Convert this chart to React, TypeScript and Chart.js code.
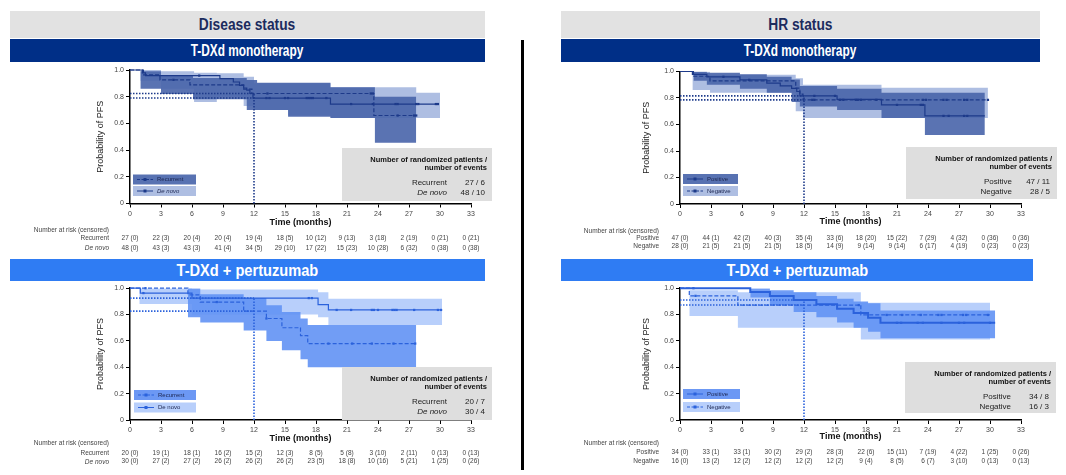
import React, { useEffect, useRef } from 'react';
import { Chart, registerables } from 'chart.js';
Chart.register(...registerables);

const FONT = "'Liberation Sans', Arial, Helvetica, sans-serif";
const NARROW = "'Liberation Sans Narrow', 'Arial Narrow', 'Liberation Sans', Arial, sans-serif";

// ---------- shared axis ticks ----------
const timeTicks = [0, 3, 6, 9, 12, 15, 18, 21, 24, 27, 30, 33];
const yTicks = [0, 0.2, 0.4, 0.6, 0.8, 1.0];

// ---------- Disease status : T-DXd monotherapy ----------
const dsMonoRecT = [0, 1.2, 2.9, 5.8, 11.0, 11.8, 23.6, 27.7];
const dsMonoRecS = [1, 0.963, 0.926, 0.889, 0.856, 0.824, 0.659, 0.659];
const dsMonoRecCens = [4.2, 13.3, 23.3, 23.5, 25.9, 27.5, 27.7];
const dsMonoRecBandT = [1.0, 3.0, 6.1, 11.3, 12.3, 15.3, 19.4, 23.7, 27.7];
const dsMonoRecBandHi = [0.99, 0.96, 0.94, 0.925, 0.905, 0.905, 0.87, 0.8];
const dsMonoRecBandLo = [0.86, 0.82, 0.78, 0.7, 0.7, 0.65, 0.64, 0.455];
const dsMonoDnT = [0, 1.3, 1.5, 8.7, 10.0, 10.6, 11.0, 11.3, 11.6, 11.9, 19.4, 29.8];
const dsMonoDnS = [1, 0.979, 0.958, 0.935, 0.91, 0.885, 0.865, 0.85, 0.824, 0.79, 0.745, 0.745];
const dsMonoDnCens = [6.7, 13.2, 13.5, 15.0, 15.3, 17.1, 17.3, 17.5, 17.7, 19.0, 21.4, 23.5, 25.7, 25.9, 27.7, 27.9, 29.6, 29.8];
const dsMonoDnBandT = [1.0, 3.0, 6.2, 8.4, 11.0, 12.0, 15.3, 19.4, 23.7, 27.7, 30.0];
const dsMonoDnBandHi = [1.0, 0.99, 0.98, 0.975, 0.95, 0.9, 0.9, 0.87, 0.87, 0.83];
const dsMonoDnBandLo = [0.92, 0.86, 0.76, 0.8, 0.73, 0.7, 0.66, 0.64, 0.64, 0.64];
const dsMonoRecRisk = ['27 (0)', '22 (3)', '20 (4)', '20 (4)', '19 (4)', '18 (5)', '10 (12)', '9 (13)', '3 (18)', '2 (19)', '0 (21)', '0 (21)'];
const dsMonoDnRisk = ['48 (0)', '43 (3)', '43 (3)', '41 (4)', '34 (5)', '29 (10)', '17 (22)', '15 (23)', '10 (28)', '6 (32)', '0 (38)', '0 (38)'];
const dsMonoInfo = ['27 / 6', '48 / 10'];

// ---------- HR status : T-DXd monotherapy ----------
const hrMonoPosT = [0, 1.3, 2.6, 5.8, 8.4, 9.7, 10.8, 11.3, 11.6, 15.2, 19.5, 23.7, 29.5];
const hrMonoPosS = [1, 0.978, 0.96, 0.937, 0.912, 0.892, 0.872, 0.849, 0.816, 0.79, 0.748, 0.665, 0.665];
const hrMonoPosCens = [4.2, 6.7, 13.0, 15.0, 21.0, 23.3, 23.5, 25.5, 26.0, 27.5, 27.8];
const hrMonoPosBandT = [1.3, 2.6, 5.8, 8.4, 10.8, 11.6, 15.2, 19.5, 23.7, 29.5];
const hrMonoPosBandHi = [1.0, 0.99, 0.98, 0.96, 0.94, 0.89, 0.87, 0.84, 0.84];
const hrMonoPosBandLo = [0.93, 0.9, 0.87, 0.84, 0.77, 0.735, 0.71, 0.65, 0.52];
const hrMonoNegT = [0, 1.2, 2.9, 11.2, 11.6, 11.9, 29.8];
const hrMonoNegS = [1, 0.964, 0.929, 0.875, 0.83, 0.786, 0.786];
const hrMonoNegCens = [12.8, 13.0, 15.5, 15.8, 17.0, 17.2, 17.5, 19.0, 23.5, 23.8, 25.5, 25.8, 27.5, 27.8, 29.8];
const hrMonoNegBandT = [1.2, 2.9, 11.2, 11.9, 19.5, 29.8];
const hrMonoNegBandHi = [1.0, 0.975, 0.95, 0.9, 0.877];
const hrMonoNegBandLo = [0.86, 0.84, 0.7, 0.65, 0.65];
const hrMonoPosRisk = ['47 (0)', '44 (1)', '42 (2)', '40 (3)', '35 (4)', '33 (6)', '18 (20)', '15 (22)', '7 (29)', '4 (32)', '0 (36)', '0 (36)'];
const hrMonoNegRisk = ['28 (0)', '21 (5)', '21 (5)', '21 (5)', '18 (5)', '14 (9)', '9 (14)', '9 (14)', '6 (17)', '4 (19)', '0 (23)', '0 (23)'];
const hrMonoInfo = ['47 / 11', '28 / 5'];

// ---------- Disease status : T-DXd + pertuzumab ----------
const dsPerRecT = [0, 5.6, 6.8, 11.0, 13.2, 14.7, 16.5, 17.2, 27.7];
const dsPerRecS = [1, 0.95, 0.895, 0.826, 0.77, 0.7, 0.64, 0.58, 0.58];
const dsPerRecCens = [1.5, 8.4, 13.2, 19.2, 21.5, 23.4, 25.5, 27.6];
const dsPerRecBandT = [5.6, 6.8, 11.0, 13.2, 14.7, 16.5, 17.2, 27.7];
const dsPerRecBandHi = [1.0, 0.955, 0.925, 0.87, 0.82, 0.77, 0.72];
const dsPerRecBandLo = [0.78, 0.74, 0.68, 0.6, 0.53, 0.46, 0.4];
const dsPerDnT = [0, 1.0, 6.0, 18.2, 19.2, 30.2];
const dsPerDnS = [1, 0.963, 0.925, 0.876, 0.835, 0.835];
const dsPerDnCens = [1.3, 17.3, 17.6, 20.0, 21.4, 23.4, 23.6, 24.0, 25.4, 25.6, 25.8, 27.5, 29.8, 30.1];
const dsPerDnBandT = [0.9, 6.0, 18.2, 19.2, 30.2];
const dsPerDnBandHi = [1.0, 0.99, 0.97, 0.92];
const dsPerDnBandLo = [0.88, 0.8, 0.78, 0.72];
const dsPerRecRisk = ['20 (0)', '19 (1)', '18 (1)', '16 (2)', '15 (2)', '12 (3)', '8 (5)', '5 (8)', '3 (10)', '2 (11)', '0 (13)', '0 (13)'];
const dsPerDnRisk = ['30 (0)', '27 (2)', '27 (2)', '26 (2)', '26 (2)', '26 (2)', '23 (5)', '18 (8)', '10 (16)', '5 (21)', '1 (25)', '0 (26)'];
const dsPerInfo = ['20 / 7', '30 / 4'];

// ---------- HR status : T-DXd + pertuzumab ----------
const hrPerPosT = [0, 6.8, 8.7, 11.0, 13.2, 15.2, 16.8, 18.2, 19.4, 30.5];
const hrPerPosS = [1, 0.971, 0.941, 0.91, 0.878, 0.845, 0.811, 0.776, 0.737, 0.737];
const hrPerPosCens = [1.3, 21.0, 21.4, 23.0, 23.5, 25.3, 27.0, 27.5, 30.0];
const hrPerPosBandT = [6.8, 8.7, 11.0, 13.2, 15.2, 16.8, 18.2, 19.4, 30.5];
const hrPerPosBandHi = [1.0, 0.985, 0.97, 0.94, 0.92, 0.9, 0.885, 0.83];
const hrPerPosBandLo = [0.93, 0.87, 0.82, 0.78, 0.74, 0.7, 0.67, 0.62];
const hrPerNegT = [0, 0.9, 5.6, 17.5, 30.0];
const hrPerNegS = [1, 0.942, 0.872, 0.797, 0.797];
const hrPerNegCens = [1.5, 17.3, 20.0, 21.5, 23.3, 25.0, 25.3, 27.4, 27.7, 29.8];
const hrPerNegBandT = [0.9, 5.6, 17.5, 30.0];
const hrPerNegBandHi = [0.985, 0.97, 0.89];
const hrPerNegBandLo = [0.79, 0.7, 0.61];
const hrPerPosRisk = ['34 (0)', '33 (1)', '33 (1)', '30 (2)', '29 (2)', '28 (3)', '22 (6)', '15 (11)', '7 (19)', '4 (22)', '1 (25)', '0 (26)'];
const hrPerNegRisk = ['16 (0)', '13 (2)', '12 (2)', '12 (2)', '12 (2)', '12 (2)', '9 (4)', '8 (5)', '6 (7)', '3 (10)', '0 (13)', '0 (13)'];
const hrPerInfo = ['34 / 8', '16 / 3'];

// ---------- colours ----------
const NAVY = '#1d3a8a';
const NAVY_DARK = 'rgba(72,100,170,0.9)';
const NAVY_DARK_SOLID = 'rgb(88,114,178)';
const NAVY_LIGHT = 'rgb(174,190,226)';
const BLUE = '#2b62dc';
const BLUE_DARK = 'rgba(98,146,244,0.9)';
const BLUE_DARK_SOLID = 'rgb(108,152,244)';
const BLUE_LIGHT = 'rgb(184,207,251)';

// ---------- helpers ----------
function kmPoints(T: number[], S: number[]) {
  const pts: { x: number; y: number }[] = [];
  for (let i = 0; i < T.length; i++) {
    if (i > 0) pts.push({ x: T[i], y: S[i - 1] });
    pts.push({ x: T[i], y: S[i] });
  }
  return pts;
}
function bandPoints(T: number[], V: number[]) {
  const pts: { x: number; y: number }[] = [];
  for (let i = 0; i < V.length; i++) {
    pts.push({ x: T[i], y: V[i] });
    pts.push({ x: T[i + 1], y: V[i] });
  }
  return pts;
}
function survAt(T: number[], S: number[], t: number) {
  let v = S[0];
  for (let i = 0; i < T.length; i++) if (T[i] <= t) v = S[i];
  return v;
}

type Series = {
  label: string; T: number[]; S: number[]; cens: number[]; bandT: number[]; bandHi: number[]; bandLo: number[];
  dashed: boolean; width: number; risk: string[]; info: string; italic: boolean; legendItalic: boolean;
};
type Panel = {
  key: string; left: number; top: number; width: number; height: number;
  area: { l: number; r: number; t: number; b: number };
  line: string; dark: string; darkSolid: string; light: string;
  series: Series[];
  yTitleX: number; xTitleDy: number; tableDy: number[];
  legend: { x: number; y: number[]; w: number; h: number };
  info: { x: number; y: number; w: number; h: number };
};

const panels: Panel[] = [
  {
    key: 'tl', left: 0, top: 63, width: 521, height: 196, area: { l: 130, r: 471, t: 70, b: 203.5 },
    line: NAVY, dark: NAVY_DARK, darkSolid: NAVY_DARK_SOLID, light: NAVY_LIGHT,
    series: [
      { label: 'Recurrent', T: dsMonoRecT, S: dsMonoRecS, cens: dsMonoRecCens, bandT: dsMonoRecBandT, bandHi: dsMonoRecBandHi, bandLo: dsMonoRecBandLo, dashed: true, width: 1.2, risk: dsMonoRecRisk, info: dsMonoInfo[0], italic: false, legendItalic: false },
      { label: 'De novo', T: dsMonoDnT, S: dsMonoDnS, cens: dsMonoDnCens, bandT: dsMonoDnBandT, bandHi: dsMonoDnBandHi, bandLo: dsMonoDnBandLo, dashed: false, width: 1.2, risk: dsMonoDnRisk, info: dsMonoInfo[1], italic: true, legendItalic: true },
    ],
    yTitleX: 101, xTitleDy: 19, tableDy: [26.5, 34.8, 44.8],
    legend: { x: 133, y: [174.5, 186], w: 63, h: 10 },
    info: { x: 342, y: 148, w: 150, h: 53 },
  },
  {
    key: 'tr', left: 521, top: 63, width: 545, height: 196, area: { l: 680, r: 1021, t: 71.5, b: 204 },
    line: NAVY, dark: NAVY_DARK, darkSolid: NAVY_DARK_SOLID, light: NAVY_LIGHT,
    series: [
      { label: 'Positive', T: hrMonoPosT, S: hrMonoPosS, cens: hrMonoPosCens, bandT: hrMonoPosBandT, bandHi: hrMonoPosBandHi, bandLo: hrMonoPosBandLo, dashed: false, width: 1.2, risk: hrMonoPosRisk, info: hrMonoInfo[0], italic: false, legendItalic: false },
      { label: 'Negative', T: hrMonoNegT, S: hrMonoNegS, cens: hrMonoNegCens, bandT: hrMonoNegBandT, bandHi: hrMonoNegBandHi, bandLo: hrMonoNegBandLo, dashed: true, width: 1.2, risk: hrMonoNegRisk, info: hrMonoInfo[1], italic: false, legendItalic: false },
    ],
    yTitleX: 647, xTitleDy: 17.7, tableDy: [27.7, 34.3, 42.7],
    legend: { x: 683, y: [174, 186], w: 55, h: 10 },
    info: { x: 906, y: 147, w: 151, h: 52 },
  },
  {
    key: 'bl', left: 0, top: 282, width: 521, height: 193, area: { l: 130, r: 471, t: 287, b: 420 },
    line: BLUE, dark: BLUE_DARK, darkSolid: BLUE_DARK_SOLID, light: BLUE_LIGHT,
    series: [
      { label: 'Recurrent', T: dsPerRecT, S: dsPerRecS, cens: dsPerRecCens, bandT: dsPerRecBandT, bandHi: dsPerRecBandHi, bandLo: dsPerRecBandLo, dashed: true, width: 1.2, risk: dsPerRecRisk, info: dsPerInfo[0], italic: false, legendItalic: false },
      { label: 'De novo', T: dsPerDnT, S: dsPerDnS, cens: dsPerDnCens, bandT: dsPerDnBandT, bandHi: dsPerDnBandHi, bandLo: dsPerDnBandLo, dashed: false, width: 1.2, risk: dsPerDnRisk, info: dsPerInfo[1], italic: true, legendItalic: false },
    ],
    yTitleX: 101, xTitleDy: 18.5, tableDy: [23, 33, 41.7],
    legend: { x: 134, y: [390, 402.5], w: 62, h: 10 },
    info: { x: 342, y: 367, w: 150, h: 53 },
  },
  {
    key: 'br', left: 521, top: 282, width: 545, height: 193, area: { l: 680, r: 1021, t: 287.5, b: 420 },
    line: BLUE, dark: BLUE_DARK, darkSolid: BLUE_DARK_SOLID, light: BLUE_LIGHT,
    series: [
      { label: 'Positive', T: hrPerPosT, S: hrPerPosS, cens: hrPerPosCens, bandT: hrPerPosBandT, bandHi: hrPerPosBandHi, bandLo: hrPerPosBandLo, dashed: false, width: 2, risk: hrPerPosRisk, info: hrPerInfo[0], italic: false, legendItalic: false },
      { label: 'Negative', T: hrPerNegT, S: hrPerNegS, cens: hrPerNegCens, bandT: hrPerNegBandT, bandHi: hrPerNegBandHi, bandLo: hrPerNegBandLo, dashed: true, width: 1.2, risk: hrPerNegRisk, info: hrPerInfo[1], italic: false, legendItalic: false },
    ],
    yTitleX: 647, xTitleDy: 16.5, tableDy: [23.3, 32.7, 41.7],
    legend: { x: 683, y: [389, 402], w: 57, h: 10 },
    info: { x: 905, y: 362, w: 151, h: 51 },
  },
];

function overlayPlugin(p: Panel) {
  return {
    id: 'kmOverlay',
    afterDraw(chart: any) {
      const ctx: CanvasRenderingContext2D = chart.ctx;
      const ca = chart.chartArea;
      const xs = chart.scales.x;
      const X = (v: number) => v - p.left;
      const Y = (v: number) => v - p.top;
      ctx.save();
      ctx.textBaseline = 'middle';
      // y title
      ctx.save();
      ctx.translate(X(p.yTitleX), (ca.top + ca.bottom) / 2);
      ctx.rotate(-Math.PI / 2);
      ctx.font = `9px ${FONT}`;
      ctx.fillStyle = '#222';
      ctx.textAlign = 'center';
      ctx.fillText('Probability of PFS', 0, 0);
      ctx.restore();
      // x title
      ctx.font = `bold 9px ${FONT}`;
      ctx.fillStyle = '#111';
      ctx.textAlign = 'center';
      ctx.fillText('Time (months)', (ca.left + ca.right) / 2, ca.bottom + p.xTitleDy);
      // number at risk table
      const lx = ca.left - 21;
      ctx.fillStyle = '#444';
      ctx.font = `6.5px ${FONT}`;
      ctx.textAlign = 'right';
      ctx.fillText('Number at risk (censored)', lx, ca.bottom + p.tableDy[0]);
      p.series.forEach((s, i) => {
        const y = ca.bottom + p.tableDy[i + 1];
        ctx.font = `${s.italic ? 'italic ' : ''}6.5px ${FONT}`;
        ctx.textAlign = 'right';
        ctx.fillText(s.label, lx, y);
        ctx.font = `6.5px ${FONT}`;
        ctx.textAlign = 'center';
        s.risk.forEach((r, k) => ctx.fillText(r, xs.getPixelForValue(timeTicks[k]), y));
      });
      // legend
      const lg = p.legend;
      p.series.forEach((s, i) => {
        const bx = X(lg.x);
        const by = Y(lg.y[i]);
        ctx.fillStyle = i === 0 ? p.darkSolid : p.light;
        ctx.fillRect(bx, by, lg.w, lg.h);
        const cy = by + lg.h / 2;
        ctx.strokeStyle = p.line;
        ctx.lineWidth = 1;
        ctx.setLineDash(s.dashed ? [3, 1.5] : []);
        ctx.beginPath();
        ctx.moveTo(bx + 4, cy);
        ctx.lineTo(bx + 20, cy);
        ctx.stroke();
        ctx.setLineDash([]);
        ctx.fillStyle = p.line;
        ctx.fillRect(bx + 10.5, cy - 1.5, 3, 3);
        ctx.fillStyle = '#1b2550';
        ctx.font = `${s.legendItalic ? 'italic ' : ''}6px ${FONT}`;
        ctx.textAlign = 'left';
        ctx.fillText(s.label, bx + 24, cy);
      });
      // info box
      const ib = p.info;
      ctx.fillStyle = '#dedede';
      ctx.fillRect(X(ib.x), Y(ib.y), ib.w, ib.h);
      const rx = X(ib.x + ib.w);
      ctx.fillStyle = '#111';
      ctx.font = `bold 7.5px ${FONT}`;
      ctx.textAlign = 'right';
      ctx.fillText('Number of randomized patients /', rx - 5, Y(ib.y) + 11.5);
      ctx.fillText('number of events', rx - 5, Y(ib.y) + 20);
      p.series.forEach((s, i) => {
        const y = Y(ib.y) + 35 + i * 10;
        ctx.fillStyle = '#222';
        ctx.font = `${s.italic ? 'italic ' : ''}8px ${FONT}`;
        ctx.fillText(s.label, rx - 45, y);
        ctx.font = `8px ${FONT}`;
        ctx.fillText(s.info, rx - 7, y);
      });
      ctx.restore();
    },
  };
}

function buildConfig(p: Panel): any {
  const [dk, lt] = p.series;
  const s12 = p.series.map((s) => survAt(s.T, s.S, 12));
  const base = { pointRadius: 0, clip: false as any, tension: 0 };
  const datasets: any[] = [
    { ...base, data: bandPoints(lt.bandT, lt.bandHi), borderWidth: 0, fill: false, order: 31 },
    { ...base, data: bandPoints(lt.bandT, lt.bandLo), borderWidth: 0, fill: '-1', backgroundColor: p.light, order: 30 },
    { ...base, data: bandPoints(dk.bandT, dk.bandHi), borderWidth: 0, fill: false, order: 21 },
    { ...base, data: bandPoints(dk.bandT, dk.bandLo), borderWidth: 0, fill: '-1', backgroundColor: p.dark, order: 20 },
  ];
  s12.forEach((v) => {
    datasets.push({ ...base, data: [{ x: 0, y: v }, { x: 12, y: v }], borderColor: p.line, borderWidth: 1.6, borderDash: [1.5, 1.5], fill: false, order: 10 });
  });
  datasets.push({ ...base, data: [{ x: 12, y: 0 }, { x: 12, y: Math.max(...s12) }], borderColor: p.line, borderWidth: 1.6, borderDash: [1.5, 1.5], fill: false, order: 10 });
  p.series.forEach((s) => {
    datasets.push({ ...base, data: kmPoints(s.T, s.S), borderColor: p.line, borderWidth: s.width, borderDash: s.dashed ? [4, 2] : [], fill: false, order: 5 });
    datasets.push({
      ...base, data: s.cens.map((c) => ({ x: c, y: survAt(s.T, s.S, c) })), showLine: false, pointStyle: 'rect',
      pointRadius: 1.6, pointBackgroundColor: p.line, pointBorderWidth: 0, order: 1,
    });
  });
  const axisGrid = { display: true, drawOnChartArea: false, drawTicks: true, tickLength: 4, color: '#000', lineWidth: 1 };
  const axisBorder = { display: true, color: '#000', width: 1.5 };
  return {
    type: 'line',
    data: { datasets },
    options: {
      responsive: false,
      animation: false,
      events: [],
      layout: {
        autoPadding: false,
        padding: {
          left: p.area.l - p.left - 40,
          right: p.left + p.width - p.area.r,
          top: p.area.t - p.top,
          bottom: p.top + p.height - p.area.b - 16,
        },
      },
      plugins: { legend: { display: false }, tooltip: { enabled: false } },
      scales: {
        x: {
          type: 'linear', min: 0, max: 33,
          afterFit: (s: any) => { s.height = 16; },
          afterBuildTicks: (s: any) => { s.ticks = timeTicks.map((v) => ({ value: v })); },
          ticks: { font: { size: 7, family: FONT }, color: '#444', padding: 2, maxRotation: 0, autoSkip: false, callback: (v: any) => String(v) },
          grid: axisGrid, border: axisBorder,
        },
        y: {
          type: 'linear', min: 0, max: 1,
          afterFit: (s: any) => { s.width = 40; },
          afterBuildTicks: (s: any) => { s.ticks = yTicks.map((v) => ({ value: v })); },
          ticks: { font: { size: 7, family: FONT }, color: '#444', padding: 2, autoSkip: false, callback: (v: any) => (v === 0 ? '0' : Number(v).toFixed(1)) },
          grid: axisGrid, border: axisBorder,
        },
      },
    },
    plugins: [overlayPlugin(p)],
  };
}

function KMPanel({ p }: { p: Panel }) {
  const ref = useRef<HTMLCanvasElement>(null);
  useEffect(() => {
    if (!ref.current) return;
    const chart = new Chart(ref.current, buildConfig(p));
    return () => chart.destroy();
  }, [p]);
  return (
    <canvas
      ref={ref}
      width={p.width}
      height={p.height}
      style={{ position: 'absolute', left: p.left, top: p.top, width: p.width, height: p.height }}
    />
  );
}

function Bar({ x, y, w, h, bg, color, size, sx, text }: { x: number; y: number; w: number; h: number; bg: string; color: string; size: number; sx: number; text: string }) {
  return (
    <div
      style={{
        position: 'absolute', left: x, top: y, width: w, height: h, background: bg, color,
        display: 'flex', alignItems: 'center', justifyContent: 'center',
        fontFamily: NARROW, fontWeight: 'bold', fontSize: size, lineHeight: 1,
      }}
    >
      <span style={{ display: 'inline-block', transform: `scaleX(${sx})`, whiteSpace: 'nowrap' }}>{text}</span>
    </div>
  );
}

export default function App() {
  return (
    <div style={{ position: 'absolute', left: 0, top: 0, width: 1066, height: 475, background: '#fff', overflow: 'hidden' }}>
      <Bar x={10} y={11} w={475} h={27} bg="#e2e2e2" color="#1c2b5e" size={16} sx={0.86} text="Disease status" />
      <Bar x={10} y={39} w={475} h={23} bg="#002f87" color="#fff" size={16} sx={0.74} text="T-DXd monotherapy" />
      <Bar x={561} y={11} w={479} h={27} bg="#e2e2e2" color="#1c2b5e" size={16} sx={0.86} text="HR status" />
      <Bar x={561} y={39} w={479} h={23} bg="#002f87" color="#fff" size={16} sx={0.74} text="T-DXd monotherapy" />
      <Bar x={10} y={259} w={475} h={22} bg="#2f7cf3" color="#fff" size={17} sx={0.86} text="T-DXd + pertuzumab" />
      <Bar x={561} y={259} w={472} h={22} bg="#2f7cf3" color="#fff" size={17} sx={0.86} text="T-DXd + pertuzumab" />
      {panels.map((p) => (
        <KMPanel key={p.key} p={p} />
      ))}
      <div style={{ position: 'absolute', left: 521, top: 40, width: 3, height: 430, background: '#000' }} />
    </div>
  );
}
